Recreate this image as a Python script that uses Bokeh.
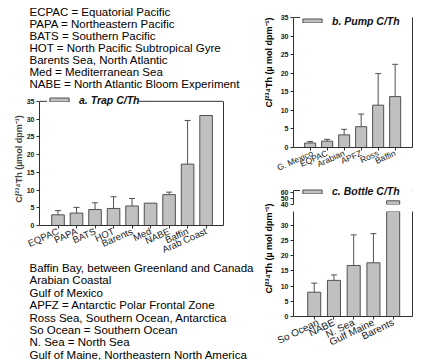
import math
from bokeh.plotting import figure
from bokeh.models import (ColumnDataSource, Range1d, FixedTicker, LinearAxis, Span,
                          Legend, LegendItem, Whisker, TeeHead)
from bokeh.core.properties import value
from bokeh.layouts import row, column
from bokeh.embed import file_html
from bokeh.resources import INLINE

# ---------------- data ----------------
trap_sites = ["EQPAC", "PAPA", "BATS", "HOT", "Barents", "Med", "NABE", "Baffin", "Arab Coast"]
trap_ratio = [3.0, 3.5, 4.5, 4.8, 5.5, 6.3, 8.7, 17.3, 31.0]
trap_upper = [4.2, 5.1, 6.4, 8.1, 7.6, None, 9.4, 29.6, None]

pump_sites = ["G. Mexico", "EQPAC", "Arabian", "APFZ", "Ross", "Baffin"]
pump_ratio = [1.2, 1.7, 3.4, 5.6, 11.4, 13.7]
pump_upper = [1.6, 2.2, 4.9, 9.0, 19.9, 22.4]

bottle_sites = ["So Ocean", "NABE", "N. Sea", "Gulf Maine", "Barents"]
bottle_ratio = [8.0, 11.9, 16.8, 17.7, 46.0]
bottle_upper = [11.0, 13.7, 26.9, 27.3, None]

y_ticks_main = [0, 5, 10, 15, 20, 25, 30, 35]
y_ticks_low = [0, 5, 10, 15, 20, 25, 30]
y_ticks_high = [40, 50, 60]

top_notes = [
    "ECPAC = Equatorial Pacific",
    "PAPA = Northeastern Pacific",
    "BATS = Southern Pacific",
    "HOT = North Pacific Subtropical Gyre",
    "Barents Sea, North Atlantic",
    "Med = Mediterranean Sea",
    "NABE = North Atlantic Bloom Experiment",
]
bottom_notes = [
    "Baffin Bay, between Greenland and Canada",
    "Arabian Coastal",
    "Gulf of Mexico",
    "APFZ = Antarctic Polar Frontal Zone",
    "Ross Sea, Southern Ocean, Antarctica",
    "So Ocean = Southern Ocean",
    "N. Sea = North Sea",
    "Gulf of Maine, Northeastern North America",
]

YLAB_A = "C/\u00b2\u00b3\u2074Th (\u00b5mol dpm\u207b\u00b9)"
YLAB_BC = "C/\u00b2\u00b3\u2074Th (\u00b5 mol dpm\u207b\u00b9)"

# axis limits
A_TOP = 35.0          # top of panel a / b scale
C_LOW_TOP = 34.6      # top of lower part of panel c
C_HI_LOW = 39.8       # bottom of upper part of panel c
C_HI_TOP = 63.3       # top of upper part of panel c

# ---------------- style ----------------
FONT = "Liberation Sans"
BAR_FILL = "#c0c0c0"
BAR_LINE = "#505050"
AX = "#303030"
TOTAL_H = 360
HEAD = 9  # px of frame kept above the top line so that the legend can straddle it


def make_fig(width, height, xr, yr, borders, x_axis=True):
    p = figure(width=width, height=height, x_range=xr, y_range=yr,
               output_backend="svg", toolbar_location=None, tools="",
               min_border_left=borders[0], min_border_right=borders[1],
               min_border_top=borders[2], min_border_bottom=borders[3],
               x_axis_location="below" if x_axis else None, frame_align=False)
    p.grid.grid_line_color = None
    p.outline_line_color = None
    p.background_fill_color = "white"
    p.border_fill_color = "white"
    return p


def text_fig(width, height):
    p = figure(width=width, height=height, x_range=Range1d(0, width), y_range=Range1d(0, height),
               output_backend="svg", toolbar_location=None, tools="", min_border=0,
               x_axis_location=None, y_axis_location=None, frame_align=False)
    p.grid.visible = False
    p.outline_line_color = None
    p.background_fill_color = "white"
    p.border_fill_color = "white"
    return p


def style_y(p, ticks, bounds):
    ax = p.yaxis[0]
    ax.bounds = bounds
    ax.ticker = FixedTicker(ticks=ticks)
    ax.major_label_text_font = FONT
    ax.major_label_text_font_size = "7px"
    ax.major_label_text_font_style = "bold"
    ax.major_label_text_color = "#202020"
    ax.major_tick_out = 3
    ax.major_tick_in = 0
    ax.minor_tick_line_color = None
    ax.axis_line_color = AX
    ax.major_tick_line_color = AX
    ax.major_label_standoff = 2


def style_x(p, names, size, angle):
    ax = p.xaxis[0]
    ax.ticker = FixedTicker(ticks=list(range(len(names))))
    ax.major_label_overrides = {i: s for i, s in enumerate(names)}
    ax.major_label_orientation = angle
    ax.major_label_text_font = FONT
    ax.major_label_text_font_size = size
    ax.major_label_text_color = "#202020"
    ax.major_tick_out = 3
    ax.major_tick_in = 0
    ax.minor_tick_line_color = None
    ax.axis_line_color = AX
    ax.major_tick_line_color = AX
    ax.major_label_standoff = 2


def right_line(p, bounds):
    rax = LinearAxis(bounds=bounds, ticker=FixedTicker(ticks=[]), axis_line_color=AX,
                     major_tick_line_color=None, minor_tick_line_color=None,
                     major_label_text_alpha=0)
    p.add_layout(rax, "right")


def top_line(p, y):
    p.add_layout(Span(location=y, dimension="width", line_color=AX, line_width=1))


def bars(p, xs, ratio, upper, width):
    src = ColumnDataSource(dict(x=xs, top=ratio))
    r = p.vbar(x="x", top="top", bottom=0, width=width, source=src,
               fill_color=BAR_FILL, line_color=BAR_LINE, line_width=1)
    ex = [(x, t, u) for x, t, u in zip(xs, ratio, upper) if u is not None]
    if ex:
        esrc = ColumnDataSource(dict(x=[e[0] for e in ex], lower=[e[1] for e in ex],
                                     upper=[e[2] for e in ex]))
        w = Whisker(source=esrc, base="x", lower="lower", upper="upper",
                    upper_head=TeeHead(size=6, line_color=BAR_LINE, line_width=1),
                    lower_head=None, line_color=BAR_LINE, line_width=1)
        p.add_layout(w)
    return r


def add_legend(p, r, text, x, y, label_width=20):
    leg = Legend(items=[LegendItem(label=text, renderers=[r])], location=(x, y),
                 glyph_width=24, glyph_height=5, label_standoff=8, padding=4,
                 label_height=12, margin=0, spacing=0, border_line_color=None,
                 background_fill_color="white", background_fill_alpha=1.0,
                 label_text_font=FONT, label_text_font_size="10.5px",
                 label_text_font_style="bold italic", label_text_color="#101010",
                 label_width=label_width)
    p.add_layout(leg)


# ---------------- left column ----------------
LW = 262
top_h = 90
pa_h = 172
bot_h = TOTAL_H - top_h - pa_h

top_txt = text_fig(LW, top_h)
top_txt.text(x=[29] * len(top_notes),
             y=[top_h - (11 + 12.05 * i) for i in range(len(top_notes))],
             text=top_notes, text_font=value(FONT), text_font_size="11.5px",
             text_baseline="middle", text_align="left", text_color="black")

# panel a: axis box x 39..223, y 101 (35) .. 228 (0)
a_scale = (228 - 101) / A_TOP
pa = make_fig(LW, pa_h, Range1d(-1.0, 8.94), Range1d(0, A_TOP + HEAD / a_scale),
              (39, LW - 223, 101 - HEAD - top_h, top_h + pa_h - 228))
style_y(pa, y_ticks_main, (0, A_TOP))
style_x(pa, trap_sites, "9.5px", 0.42)
pa.yaxis[0].axis_label = YLAB_A
pa.yaxis[0].axis_label_text_font = FONT
pa.yaxis[0].axis_label_text_font_size = "9px"
pa.yaxis[0].axis_label_text_font_style = "bold"
pa.yaxis[0].axis_label_standoff = 0
right_line(pa, (0, A_TOP))
top_line(pa, A_TOP)
ra = bars(pa, list(range(len(trap_sites))), trap_ratio, trap_upper, 0.68)
add_legend(pa, ra, "a. Trap C/Th", 8, 228 - 108.5)

bot_txt = text_fig(LW, bot_h)
bot_txt.text(x=[29] * len(bottom_notes),
             y=[TOTAL_H - (267.5 + 12.4 * i) for i in range(len(bottom_notes))],
             text=bottom_notes, text_font=value(FONT), text_font_size="11.5px",
             text_baseline="middle", text_align="left", text_color="black")

left = column(top_txt, pa, bot_txt, spacing=0)

# ---------------- y-label strip for panels b and c ----------------
SW = 13
strip = text_fig(SW, TOTAL_H)
strip.text(x=[6.5, 6.5], y=[TOTAL_H - 62, TOTAL_H - 248], text=[YLAB_BC, YLAB_BC],
           angle=math.pi / 2, text_font=value(FONT), text_font_size="9px",
           text_font_style="bold", text_baseline="middle", text_align="center",
           text_color="black")

# ---------------- right column ----------------
RW = 438 - LW - SW  # axis box x 293..412
rb_left = 293 - (LW + SW)
rb_right = RW - rb_left - 119

# panel b: axis box y 17 (35) .. 147 (0)
pb_h = 180
b_scale = (147 - 17) / A_TOP
pb = make_fig(RW, pb_h, Range1d(-0.98, 6.02), Range1d(0, A_TOP + HEAD / b_scale),
              (rb_left, rb_right, 17 - HEAD, pb_h - 147))
style_y(pb, y_ticks_main, (0, A_TOP))
style_x(pb, pump_sites, "8.5px", 0.42)
right_line(pb, (0, A_TOP))
top_line(pb, A_TOP)
rb = bars(pb, list(range(len(pump_sites))), pump_ratio, pump_upper, 0.65)
add_legend(pb, rb, "b. Pump C/Th", 7, 147 - 26.5, label_width=80)

# panel c upper (broken axis top part): axis y 190 (top) .. 204 (bottom)
xr_c = Range1d(-1.05, 4.98)
cu_h = 27
c_scale = (204 - 190) / (C_HI_TOP - C_HI_LOW)
pc_up = make_fig(RW, cu_h, xr_c, Range1d(C_HI_LOW, C_HI_TOP + HEAD / c_scale),
                 (rb_left, rb_right, 190 - HEAD - pb_h, pb_h + cu_h - 204), x_axis=False)
style_y(pc_up, y_ticks_high, (C_HI_LOW, C_HI_TOP))
top_line(pc_up, C_HI_TOP)
hi = [i for i, v in enumerate(bottle_ratio) if v > C_HI_LOW]
rc = bars(pc_up, hi, [bottle_ratio[i] for i in hi], [None] * len(hi), 0.66)
add_legend(pc_up, rc, "c. Bottle C/Th", 7, 204 - 197, label_width=80)

# panel c lower: axis y 211 .. 316
cl_top = pb_h + cu_h
cl_h = TOTAL_H - cl_top
pc_low = make_fig(RW, cl_h, xr_c, Range1d(0, C_LOW_TOP),
                  (rb_left, rb_right, 211 - cl_top, TOTAL_H - 316))
style_y(pc_low, y_ticks_low, (0, C_LOW_TOP))
style_x(pc_low, bottle_sites, "10px", 0.45)
right_line(pc_low, (0, C_LOW_TOP))
bars(pc_low, list(range(len(bottle_sites))), bottle_ratio, bottle_upper, 0.66)

right = column(pb, pc_up, pc_low, spacing=0)

layout = row(left, strip, right, spacing=0)

open("out.html", "w").write(file_html(layout, INLINE))
